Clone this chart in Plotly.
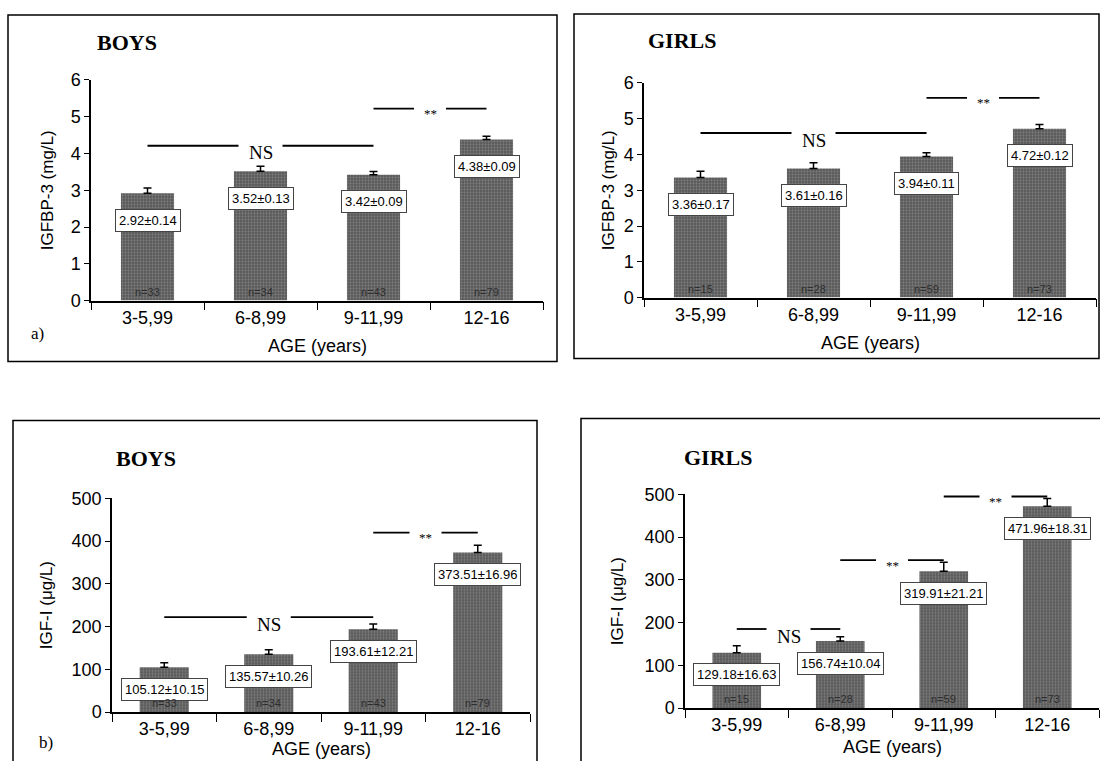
import plotly.graph_objects as go

# ---------------- data ----------------
categories = ["3-5,99", "6-8,99", "9-11,99", "12-16"]

igfbp3_boys = [2.92, 3.52, 3.42, 4.38]
igfbp3_boys_se = [0.14, 0.13, 0.09, 0.09]
igfbp3_girls = [3.36, 3.61, 3.94, 4.72]
igfbp3_girls_se = [0.17, 0.16, 0.11, 0.12]

igf1_boys = [105.12, 135.57, 193.61, 373.51]
igf1_boys_se = [10.15, 10.26, 12.21, 16.96]
igf1_girls = [129.18, 156.74, 319.91, 471.96]
igf1_girls_se = [16.63, 10.04, 21.21, 18.31]

n_boys = [33, 34, 43, 79]
n_girls = [15, 28, 59, 73]

# significance brackets: (from category, to category, level, label)
sig_igfbp3_boys = [(0, 2, 4.21, "NS"), (2, 3, 5.22, "**")]
sig_igfbp3_girls = [(0, 2, 4.60, "NS"), (2, 3, 5.58, "**")]
sig_igf1_boys = [(0, 2, 222, "NS"), (2, 3, 420, "**")]
sig_igf1_girls = [(0, 1, 185, "NS"), (1, 2, 346, "**"), (2, 3, 495, "**")]

# ---------------- layout helpers ----------------
W, H = 1100, 761


def px(x):
    return x / W


def py(y):
    # pixel row (from top) -> paper fraction, with a small empirical
    # vertical correction so the picture lands where intended
    ys = (y - 9) / 0.975
    return 1 - ys / H


panels = [
    dict(vals=igfbp3_boys, se=igfbp3_boys_se, n=n_boys, sig=sig_igfbp3_boys,
         title="BOYS", ytitle="IGFBP-3 (mg/L)", ymax=6, dtick=1, dec=2,
         x0=91, x1=543, yb=300, yt=79, border=(8, 14, 557, 361),
         title_xy=(95, 42), ytitle_x=47, age_y=345, tag="a)", tag_xy=(37, 333),
         lab_shift=-27),
    dict(vals=igfbp3_girls, se=igfbp3_girls_se, n=n_girls, sig=sig_igfbp3_girls,
         title="GIRLS", ytitle="IGFBP-3 (mg/L)", ymax=6, dtick=1, dec=2,
         x0=644, x1=1096, yb=297, yt=82, border=(574, 13, 1099, 358),
         title_xy=(646, 40), ytitle_x=608, age_y=342, tag=None, tag_xy=None,
         lab_shift=-27),
    dict(vals=igf1_boys, se=igf1_boys_se, n=n_boys, sig=sig_igf1_boys,
         title="BOYS", ytitle="IGF-I (μg/L)", ymax=500, dtick=100, dec=2,
         x0=112, x1=530, yb=712, yt=498, border=(13, 420, 537, 800),
         title_xy=(114, 458), ytitle_x=46, age_y=749, tag="b)", tag_xy=(46, 742),
         lab_shift=-22),
    dict(vals=igf1_girls, se=igf1_girls_se, n=n_girls, sig=sig_igf1_girls,
         title="GIRLS", ytitle="IGF-I (μg/L)", ymax=500, dtick=100, dec=2,
         x0=685, x1=1099, yb=708, yt=494, border=(581, 418, 1120, 800),
         title_xy=(682, 457), ytitle_x=617, age_y=747, tag=None, tag_xy=None,
         lab_shift=-22),
]

SANS = "Liberation Sans, Arial, sans-serif"
SERIF = "Liberation Serif, Times New Roman, serif"

fig = go.Figure()
layout = dict(
    width=W, height=H, margin=dict(l=0, r=0, t=0, b=0),
    paper_bgcolor="white", plot_bgcolor="white", showlegend=False,
)
annotations = []
shapes = []

for i, p in enumerate(panels):
    k = "" if i == 0 else str(i + 1)
    xa, ya = "x" + k, "y" + k
    fig.add_trace(go.Bar(
        x=categories, y=p["vals"], width=0.47,
        marker=dict(color="#636363",
                    pattern=dict(shape=".", fgcolor="#a6a6a6", bgcolor="#5a5a5a",
                                 size=3, solidity=0.35),
                    line=dict(width=0)),
        error_y=dict(type="data", symmetric=False, array=p["se"],
                     arrayminus=[0] * len(p["se"]), color="black",
                     thickness=1.5, width=4),
        xaxis=xa, yaxis=ya, hoverinfo="skip",
    ))

    layout["xaxis" + k] = dict(
        domain=[px(p["x0"]), px(p["x1"])], range=[-0.5, 3.5], type="category",
        categoryorder="array", categoryarray=categories,
        tickson="boundaries", ticks="outside", ticklen=8, tickwidth=1.2,
        tickcolor="black", showline=True, linecolor="black", linewidth=1.5,
        showgrid=False, zeroline=False, anchor=ya,
        tickfont=dict(family=SANS, size=18, color="black"),
    )
    layout["yaxis" + k] = dict(
        domain=[py(p["yb"]), py(p["yt"])], range=[0, p["ymax"]], dtick=p["dtick"],
        ticks="outside", ticklen=5, tickwidth=1.2, tickcolor="black",
        showline=True, linecolor="black", linewidth=1.5, showgrid=False,
        zeroline=False, anchor=xa,
        tickfont=dict(family=SANS, size=18, color="black"),
    )

    # panel border
    bx0, by0, bx1, by1 = p["border"]
    shapes.append(dict(type="rect", xref="paper", yref="paper",
                       x0=px(bx0), x1=px(bx1), y0=py(by1), y1=py(by0),
                       line=dict(color="black", width=1.5)))

    # title
    annotations.append(dict(xref="paper", yref="paper", x=px(p["title_xy"][0]),
                            y=py(p["title_xy"][1]), xanchor="left", yanchor="middle",
                            text="<b>" + p["title"] + "</b>", showarrow=False,
                            font=dict(family=SERIF, size=22, color="black")))
    # y axis title
    annotations.append(dict(xref="paper", yref="paper", x=px(p["ytitle_x"]),
                            y=py((p["yb"] + p["yt"]) / 2), xanchor="center",
                            yanchor="middle", textangle=-90, text=p["ytitle"],
                            showarrow=False,
                            font=dict(family=SANS, size=17, color="black")))
    # x axis title
    annotations.append(dict(xref="paper", yref="paper",
                            x=px((p["x0"] + p["x1"]) / 2), y=py(p["age_y"]),
                            xanchor="center", yanchor="middle", text="AGE (years)",
                            showarrow=False,
                            font=dict(family=SANS, size=18, color="black")))
    if p["tag"]:
        annotations.append(dict(xref="paper", yref="paper", x=px(p["tag_xy"][0]),
                                y=py(p["tag_xy"][1]), xanchor="center",
                                yanchor="middle", text=p["tag"], showarrow=False,
                                font=dict(family=SERIF, size=17, color="black")))

    # value boxes and n labels
    for c, v, s, n in zip(categories, p["vals"], p["se"], p["n"]):
        annotations.append(dict(xref=xa, yref=ya, x=c, y=v, yshift=p["lab_shift"],
                                text=f"{v:.{p['dec']}f}±{s:.{p['dec']}f}",
                                showarrow=False, bgcolor="white",
                                bordercolor="#444", borderwidth=1, borderpad=3,
                                font=dict(family=SANS, size=13, color="black")))
        annotations.append(dict(xref=xa, yref=ya, x=c, y=0, yshift=9,
                                text=f"n={n}", showarrow=False,
                                font=dict(family=SANS, size=11, color="#2e2e2e")))

    # significance brackets
    px_per_cat = (p["x1"] - p["x0"]) / 4
    for a, b, lvl, lab in p["sig"]:
        mid = (a + b) / 2
        half = (22 if lab == "NS" else 16) / px_per_cat
        for s0, s1 in ((a, mid - half), (mid + half, b)):
            shapes.append(dict(type="line", xref=xa, yref=ya, x0=s0, x1=s1,
                               y0=lvl, y1=lvl,
                               line=dict(color="black", width=1.8)))
        annotations.append(dict(xref=xa, yref=ya, x=mid, y=lvl,
                                yshift=-7 if lab == "NS" else -5, text=lab,
                                showarrow=False,
                                font=dict(family=SERIF,
                                          size=19 if lab == "NS" else 13,
                                          color="black")))

layout["annotations"] = annotations
layout["shapes"] = shapes
fig.update_layout(**layout)
fig.write_html(
    "out.html",
    config={"displayModeBar": False},
    post_script="document.body.style.margin='0';"
                "document.body.style.overflow='hidden';",
)
